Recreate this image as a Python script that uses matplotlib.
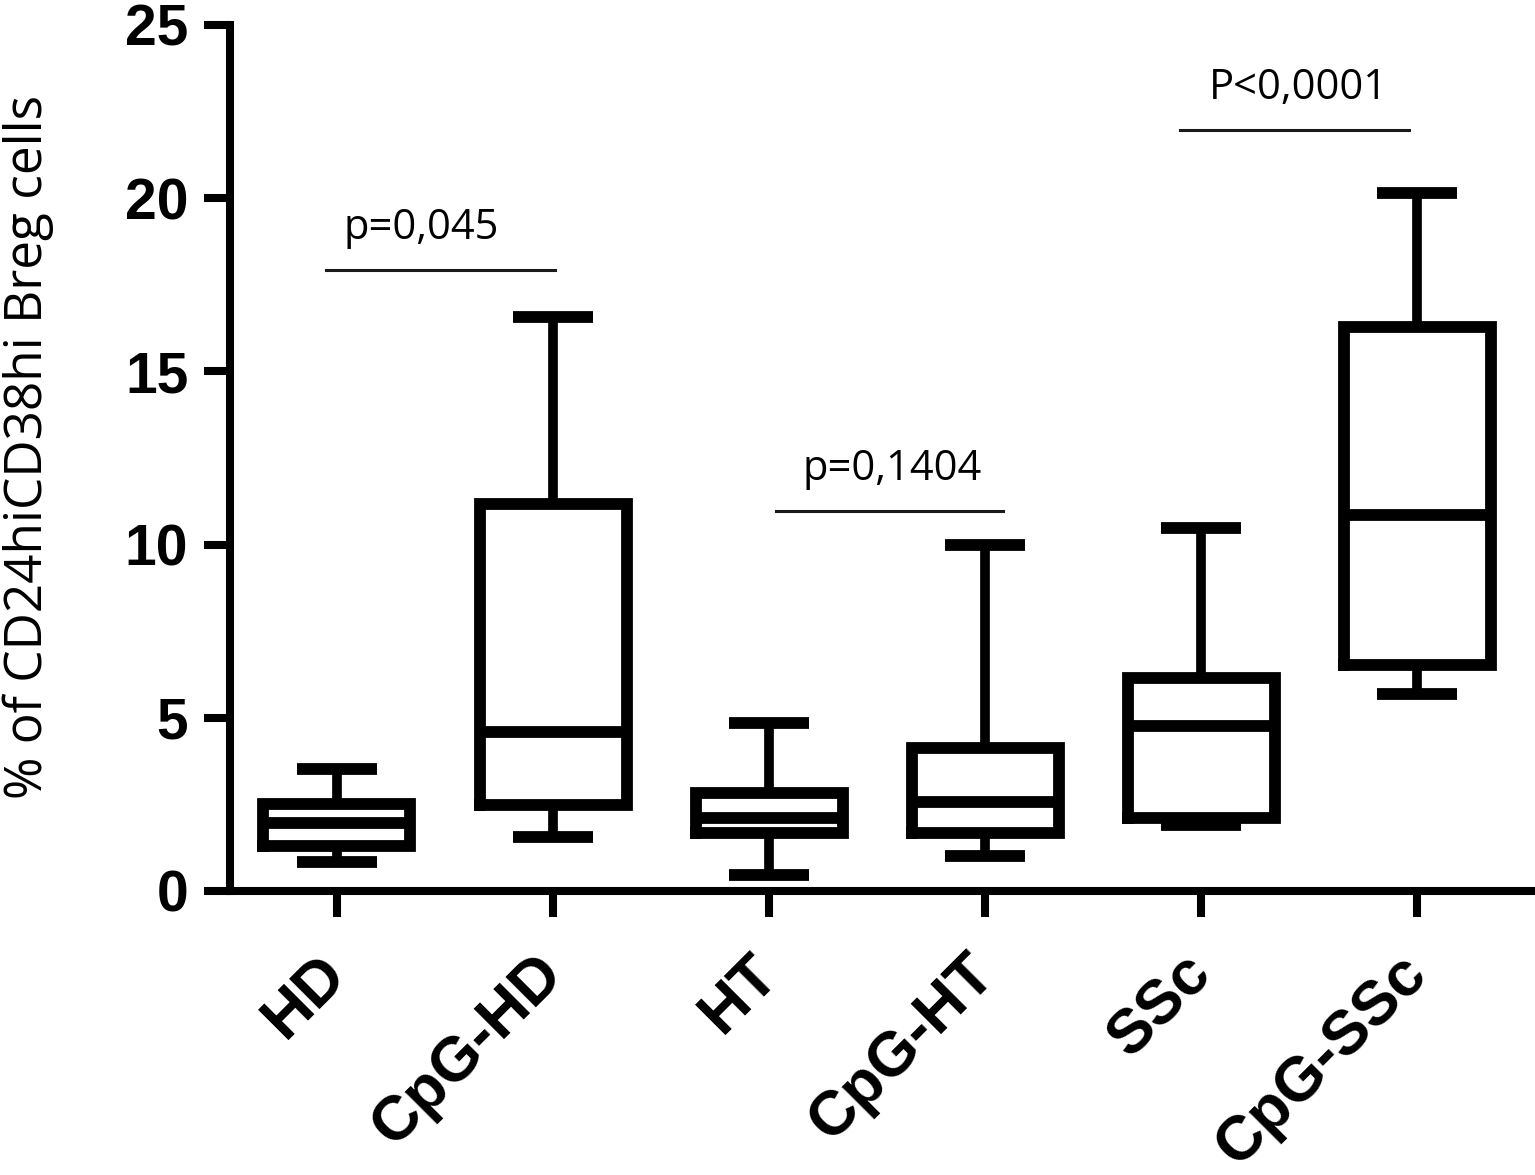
import matplotlib
matplotlib.use("Agg")
import matplotlib.pyplot as plt

# box summary values (% of CD24hiCD38hi Breg cells)
groups = ["HD", "CpG-HD", "HT", "CpG-HT", "SSc", "CpG-SSc"]
whisker_low = [0.84, 1.56, 0.46, 1.01, 1.90, 5.69]
q1 = [1.30, 2.48, 1.67, 1.67, 2.10, 6.52]
median = [1.97, 4.60, 2.11, 2.57, 4.76, 10.85]
q3 = [2.51, 11.18, 2.83, 4.13, 6.15, 16.28]
whisker_high = [3.53, 16.57, 4.85, 9.99, 10.48, 20.15]

# significance bars: x extent on the category axis, height, label
sig_x0 = [-0.05, 2.03, 3.90]
sig_x1 = [1.01, 3.08, 4.96]
sig_height = [17.93, 10.97, 21.97]
sig_text_x = [0.39, 2.57, 4.45]
sig_text = ["p=0,045", "p=0,1404", "P<0,0001"]

fig = plt.figure(figsize=(15.35, 11.75), dpi=100)
ax = fig.add_axes([230 / 1535, 1 - 891 / 1175, 1302 / 1535, 866 / 1175])

stats = []
for i, g in enumerate(groups):
    stats.append(dict(label=g, whislo=whisker_low[i], q1=q1[i], med=median[i],
                      q3=q3[i], whishi=whisker_high[i], fliers=[]))

pos = list(range(len(groups)))
ax.bxp(stats, positions=pos, widths=0.68, capwidths=0.37, showfliers=False,
       boxprops=dict(color="black", linewidth=8.5, solid_joinstyle="miter"),
       medianprops=dict(color="black", linewidth=8.5, solid_capstyle="butt"),
       whiskerprops=dict(color="black", linewidth=7, solid_capstyle="butt"),
       capprops=dict(color="black", linewidth=8.5, solid_capstyle="butt"))

for x0, x1, h, tx, t in zip(sig_x0, sig_x1, sig_height, sig_text_x, sig_text):
    ax.plot([x0, x1], [h, h], color="#1a1a1a", lw=2.2, clip_on=False)
    ax.text(tx, h + 0.6, t, ha="center", va="bottom",
            fontsize=30, family="Open Sans", color="black")

ax.set_xlim(-0.495, 5.53)
ax.set_ylim(0, 25)
ax.set_yticks([0, 5, 10, 15, 20, 25])
ax.set_xticks(pos)
ax.set_xticklabels(groups, rotation=45, ha="right", va="center",
                   rotation_mode="anchor")

for s in ["top", "right"]:
    ax.spines[s].set_visible(False)
for s in ["left", "bottom"]:
    ax.spines[s].set_linewidth(5.8)
ax.tick_params(axis="both", length=19, width=5.8, color="black")
ax.tick_params(axis="y", pad=11, labelsize=41)
ax.tick_params(axis="x", pad=34, labelsize=45)
for lab in ax.get_yticklabels() + ax.get_xticklabels():
    lab.set_fontfamily("Liberation Sans")
    lab.set_fontweight("bold")

fig.text(28 / 1535, 1 - 447 / 1175, "% of CD24hiCD38hi Breg cells",
         rotation=90, ha="center", va="center", fontsize=37,
         family="Open Sans", color="black")

fig.savefig("out.png", dpi=100)
